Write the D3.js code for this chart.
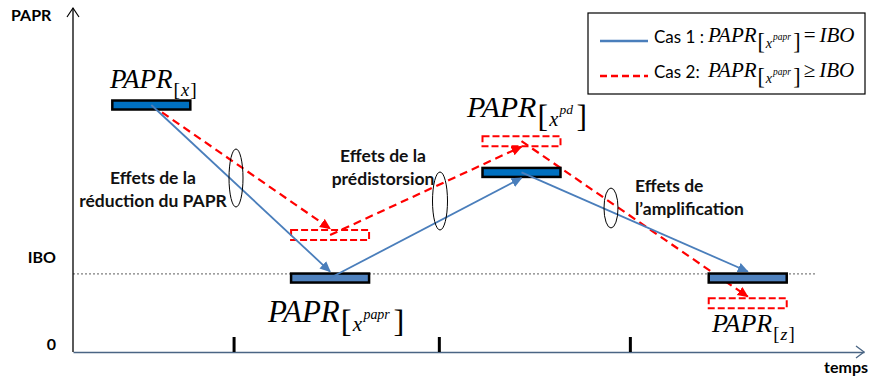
<!DOCTYPE html>
<html><head><meta charset="utf-8">
<script src="https://cdn.jsdelivr.net/npm/d3@7"></script>
<style>body{margin:0;background:#fff}svg{display:block}</style>
</head><body>
<svg id="c" width="870" height="380"></svg>
<script>
// ---- data (time units 0..100, PAPR units 0..100) ----
const stageNames = ["x", "x^papr", "x^pd", "z"];
const stageTimes = [9.9, 32.5, 56.7, 85.3];
const case1Levels = [71.8, 21.5, 52.2, 21.5];   // solid blue (PAPR_[x^papr] = IBO)
const case2Levels = [71.8, 34.0, 61.3, 14.2];   // dashed red (PAPR_[x^papr] >= IBO)
const ibo = 22.7;
const tickTimes = [20.3, 46.25, 70.4];
const effectLabels = [["Effets de la", "réduction du PAPR"], ["Effets de la", "prédistorsion"], ["Effets de", "l\u2019amplification"]];
const legendLabels = ["Cas 1 :", "Cas 2:"];
const legendRelations = ["=", "\u2265"];

const svg = d3.select("#c");
const x = d3.scaleLinear().domain([0, 100]).range([73, 864]);
const y = d3.scaleLinear().domain([0, 100]).range([352, 8]);
const BW = 78, BH = 9;
const blue = "#4a7ebb", barBlue = "#0070c0", barBlue2 = "#4f81bd", red = "#ff0000";

// markers
const defs = svg.append("defs");
[["ab", blue], ["ar", red]].forEach(([id, col]) => {
  defs.append("marker").attr("id", id).attr("viewBox", "0 0 10 10").attr("refX", 9).attr("refY", 5)
    .attr("markerWidth", 11).attr("markerHeight", 11).attr("markerUnits", "userSpaceOnUse").attr("orient", "auto")
    .append("path").attr("d", "M0,0.5 L10,5 L0,9.5 Z").attr("fill", col);
});

// IBO dotted line
svg.append("line").attr("x1", x(0)).attr("x2", 815).attr("y1", y(ibo)).attr("y2", y(ibo))
  .attr("stroke", "#7f7f7f").attr("stroke-width", 1.2).attr("stroke-dasharray", "2,2");

// x axis
const xAxis = d3.axisBottom(x).tickValues(tickTimes).tickSize(-15).tickSizeOuter(0).tickFormat("");
const gx = svg.append("g").attr("transform", `translate(0,${y(0)})`).call(xAxis);
gx.select(".domain").attr("stroke", "#4a6584").attr("stroke-width", 1.6);
gx.selectAll(".tick line").attr("stroke", "#000").attr("stroke-width", 3);
svg.append("path").attr("d", `M${x(100) - 8},${y(0) - 6} L${x(100)},${y(0)} L${x(100) - 8},${y(0) + 6}`)
  .attr("fill", "none").attr("stroke", "#4a6584").attr("stroke-width", 1.3);
// y axis
svg.append("line").attr("x1", x(0)).attr("x2", x(0)).attr("y1", y(0)).attr("y2", y(100))
  .attr("stroke", "#000").attr("stroke-width", 1.3);
svg.append("path").attr("d", `M${x(0) - 6},${y(100) + 9} L${x(0)},${y(100)} L${x(0) + 6},${y(100) + 9}`)
  .attr("fill", "none").attr("stroke", "#000").attr("stroke-width", 1.2);

const boldFont = "Lato, 'Open Sans', sans-serif";
svg.append("text").attr("x", 11).attr("y", 21).text("PAPR").attr("font-family", boldFont).attr("font-weight", 700).attr("font-size", 16);
svg.append("text").attr("x", 56).attr("y", 263).attr("text-anchor", "end").text("IBO").attr("font-family", boldFont).attr("font-weight", 700).attr("font-size", 16);
svg.append("text").attr("x", 56).attr("y", 350).attr("text-anchor", "end").text("0").attr("font-family", boldFont).attr("font-weight", 700).attr("font-size", 16);
svg.append("text").attr("x", 868).attr("y", 373).attr("text-anchor", "end").text("temps").attr("font-family", boldFont).attr("font-weight", 700).attr("font-size", 16);

// arrows between stages
function arrows(levels, marker, col, dash) {
  for (let i = 0; i < levels.length - 1; i++) {
    const x1 = x(stageTimes[i]), y1 = y(levels[i]);
    const x2 = x(stageTimes[i + 1]);
    const down = levels[i + 1] < levels[i];
    const y2 = y(levels[i + 1]) + (down ? -BH / 2 - 2 : BH / 2 + 1);
    svg.append("line").attr("x1", x1).attr("y1", y1).attr("x2", x2).attr("y2", y2)
      .attr("stroke", col).attr("stroke-width", dash ? 2.2 : 1.8)
      .attr("stroke-dasharray", dash ? "8,5" : null).attr("marker-end", `url(#${marker})`);
  }
}

// case 2 rects (dashed)
svg.selectAll(".r2").data(case2Levels.slice(1)).join("rect")
  .attr("x", (d, i) => x(stageTimes[i + 1]) - BW / 2).attr("y", d => y(d) - BH / 2 - 0.5)
  .attr("width", BW).attr("height", BH + 1).attr("fill", "none").attr("stroke", red)
  .attr("stroke-width", 2).attr("stroke-dasharray", "7,3");

arrows(case2Levels, "ar", red, true);

// case 1 bars
const fills = [barBlue, barBlue2, barBlue, barBlue2];
svg.selectAll(".b1").data(case1Levels).join("rect")
  .attr("x", (d, i) => x(stageTimes[i]) - BW / 2).attr("y", d => y(d) - BH / 2)
  .attr("width", BW).attr("height", BH).attr("fill", (d, i) => fills[i]).attr("stroke", "#000").attr("stroke-width", 2.5);

arrows(case1Levels, "ab", blue, false);

// ellipses on the transitions
const ellipses = [[236, 178, 7, 29], [440, 201, 7.5, 29], [611, 208, 7, 20]];
ellipses.forEach(([cx, cy, rx, ry]) => svg.append("ellipse").attr("cx", cx).attr("cy", cy).attr("rx", rx).attr("ry", ry)
  .attr("fill", "none").attr("stroke", "#000").attr("stroke-width", 1));

// effect labels
const effPos = [[153, 184, "middle"], [383, 162, "middle"], [635, 192, "start"]];
effectLabels.forEach((lines, i) => {
  const [px, py, anc] = effPos[i];
  const t = svg.append("text").attr("font-family", boldFont).attr("font-weight", 700).attr("font-size", 17.5)
    .attr("text-anchor", anc).attr("fill", "#111");
  lines.forEach((l, j) => t.append("tspan").attr("x", px).attr("y", py + j * 23).text(l));
});

// math label helper: PAPR_[base^sup]
const serif = "'Liberation Serif', 'Times New Roman', serif";
function mathLabel(px, py, size, base, sup) {
  const g = svg.append("g");
  const main = g.append("text").attr("x", px).attr("y", py).attr("font-family", serif).attr("font-style", "italic")
    .attr("font-size", size).text("PAPR");
  let cx = px + main.node().getComputedTextLength() + 1;
  const bs = sup ? size * 1.05 : size * 0.72;
  const by = py + size * (sup ? 0.33 : 0.3);
  const b1 = g.append("text").attr("x", cx).attr("y", by).attr("font-family", serif).attr("font-size", bs).text("[");
  cx += b1.node().getComputedTextLength() + size * 0.04;
  const xs = g.append("text").attr("x", cx).attr("y", by - (sup ? size * 0.03 : 0)).attr("font-family", serif).attr("font-style", "italic")
    .attr("font-size", size * 0.68).text(base);
  cx += xs.node().getComputedTextLength() + size * 0.04;
  if (sup) {
    const ss = g.append("text").attr("x", cx).attr("y", by - size * 0.42).attr("font-family", serif).attr("font-style", "italic")
      .attr("font-size", size * 0.45).text(sup);
    cx += ss.node().getComputedTextLength() + size * 0.12;
  }
  const b2 = g.append("text").attr("x", cx).attr("y", by).attr("font-family", serif).attr("font-size", bs).text("]");
  return cx + b2.node().getComputedTextLength();
}
function parts(name) { const p = name.split("^"); return [p[0], p[1] || null]; }

const labelPos = [[110, 88, 27], [268, 322, 31], [467, 117, 30], [712, 332, 26]];
stageNames.forEach((n, i) => {
  const [b, s] = parts(n);
  mathLabel(labelPos[i][0], labelPos[i][1], labelPos[i][2], b, s);
});

// legend
svg.append("rect").attr("x", 588).attr("y", 13).attr("width", 277).attr("height", 81)
  .attr("fill", "#fff").attr("stroke", "#000").attr("stroke-width", 1.2);
const legCols = [blue, red];
legendLabels.forEach((lab, i) => {
  const ly = 41 + i * 35;
  svg.append("line").attr("x1", 600).attr("x2", 648).attr("y1", ly).attr("y2", ly)
    .attr("stroke", legCols[i]).attr("stroke-width", 2.5).attr("stroke-dasharray", i ? "7,4" : null);
  svg.append("text").attr("x", 654).attr("y", ly + 2).attr("font-family", "Lato, sans-serif").attr("font-size", 17).text(lab);
  const [b, s] = parts(stageNames[1]);
  const end = mathLabel(708, ly + 1, 21, b, s);
  svg.append("text").attr("x", Math.max(end + 3, 802)).attr("y", ly + 1).attr("font-family", serif).attr("font-size", 21).text(legendRelations[i])
    .append("tspan").attr("font-style", "italic").attr("dx", 4).text("IBO");
});
</script>
</body></html>
